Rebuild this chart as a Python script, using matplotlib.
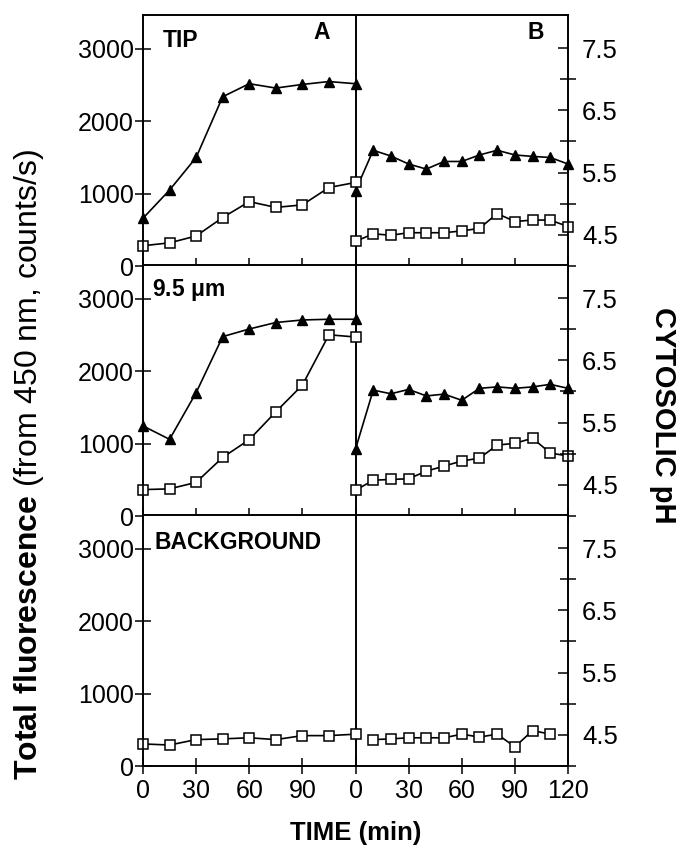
import matplotlib
matplotlib.use("Agg")
import matplotlib.pyplot as plt
import numpy as np

plt.rcParams['font.family'] = ['Liberation Sans', 'DejaVu Sans']
plt.rcParams['mathtext.fontset'] = 'custom'
plt.rcParams['mathtext.rm'] = 'Liberation Sans'
plt.rcParams['mathtext.bf'] = 'Liberation Sans:bold'

# ---- data ----
time_A = [0, 15, 30, 45, 60, 75, 90, 105, 120]
time_B = [0, 10, 20, 30, 40, 50, 60, 70, 80, 90, 100, 110, 120]
time_B_bg = [10, 20, 30, 40, 50, 60, 70, 80, 90, 100, 110]

tip_A_tri = [660, 1050, 1500, 2340, 2520, 2460, 2510, 2550, 2520]
tip_A_sq = [280, 320, 415, 670, 890, 810, 845, 1085, 1155]
tip_B_tri = [1040, 1600, 1520, 1410, 1340, 1445, 1445, 1535, 1600, 1535, 1515, 1500, 1410]
tip_B_sq = [340, 445, 425, 460, 460, 460, 485, 520, 725, 615, 635, 635, 545]

mid_A_tri = [1245, 1060, 1705, 2480, 2585, 2675, 2710, 2720, 2720]
mid_A_sq = [365, 375, 465, 810, 1055, 1440, 1810, 2505, 2475]
mid_B_tri = [925, 1740, 1690, 1750, 1660, 1685, 1600, 1765, 1785, 1765, 1785, 1820, 1765]
mid_B_sq = [355, 495, 505, 515, 620, 690, 760, 800, 980, 1005, 1075, 870, 830]

bg_A_sq = [305, 290, 365, 375, 390, 365, 420, 420, 440]
bg_B_sq = [365, 375, 390, 390, 390, 440, 400, 440, 265, 490, 440]

panel_labels = ["TIP", "9.5 $\\mathbf{\\mu}$m", "BACKGROUND"]
x_ticks = [0, 30, 60, 90, 120, 150, 180, 210, 240]
x_tick_labels = ["0", "30", "60", "90", "0", "30", "60", "90", "120"]
fl_ticks = [0, 1000, 2000, 3000]
ph_major = [4.5, 5.5, 6.5, 7.5]
ph_minor = [4.0, 5.0, 6.0, 7.0]

B_OFFSET = 120

fig = plt.figure(figsize=(6.8, 8.52), dpi=100)
left, right = 143 / 680, 568 / 680
tops = [15, 265, 515]
h = 251

panels = [
    (tip_A_tri, tip_A_sq, tip_B_tri, tip_B_sq, time_B),
    (mid_A_tri, mid_A_sq, mid_B_tri, mid_B_sq, time_B),
    (None, bg_A_sq, None, bg_B_sq, time_B_bg),
]

lw = 1.2
for i, (a_tri, a_sq, b_tri, b_sq, tb) in enumerate(panels):
    top_px = tops[i]
    bot_px = top_px + h
    ax = fig.add_axes([left, 1 - bot_px / 852, right - left, h / 852])
    tbx = np.array(tb) + B_OFFSET
    if a_tri is not None:
        ax.plot(time_A, a_tri, '-', color='black', lw=lw, marker='^', ms=7.5,
                mfc='black', mec='black', clip_on=False, zorder=4)
        ax.plot(tbx, b_tri, '-', color='black', lw=lw, marker='^', ms=7.5,
                mfc='black', mec='black', clip_on=False, zorder=4)
    ax.plot(time_A, a_sq, '-', color='black', lw=lw, marker='s', ms=6.5,
            mfc='white', mec='black', mew=1.1, clip_on=False, zorder=5)
    ax.plot(tbx, b_sq, '-', color='black', lw=lw, marker='s', ms=6.5,
            mfc='white', mec='black', mew=1.1, clip_on=False, zorder=5)
    ax.axvline(B_OFFSET, color='black', lw=1.4, zorder=3)
    ax.set_xlim(0, 240)
    ax.set_ylim(0, 3470)
    ax.set_yticks(fl_ticks)
    ax.set_yticklabels([str(v) for v in fl_ticks], fontsize=18)
    ax.set_xticks(x_ticks)
    if i == 2:
        ax.set_xticklabels(x_tick_labels, fontsize=18)
    else:
        ax.set_xticklabels([])
    ax.tick_params(axis='y', direction='inout', length=12, width=1.1, pad=0.5)
    ax.tick_params(axis='x', direction='inout', length=12, width=1.1, pad=3)
    for s in ax.spines.values():
        s.set_linewidth(1.2)
    ax.text(0.028 if i == 2 else (0.047 if i == 0 else 0.021),
            0.9 if i != 2 else 0.89, panel_labels[i],
            transform=ax.transAxes, fontsize=16.5, fontweight='bold',
            va='center', ha='left')
    if i == 0:
        ax.text(0.421, 0.932, "A", transform=ax.transAxes, fontsize=16.5,
                fontweight='bold', ha='center', va='center')
        ax.text(0.925, 0.932, "B", transform=ax.transAxes, fontsize=16.5,
                fontweight='bold', ha='center', va='center')

    ax2 = ax.twinx()
    ax2.set_ylim(4.0, 8.03)
    ax2.set_yticks(ph_major)
    ax2.set_yticklabels([str(v) for v in ph_major], fontsize=18.5)
    ax2.set_yticks(ph_minor, minor=True)
    ax2.tick_params(axis='y', which='major', direction='in', length=7, width=1.1, pad=10)
    ax2.tick_params(axis='y', which='minor', direction='inout', length=12, width=1.1)
    for s in ax2.spines.values():
        s.set_linewidth(1.2)

fig.text(0.042, 0.455, r"$\mathbf{Total\ fluorescence}$ (from 450 nm, counts/s)",
         rotation=90, fontsize=23, ha='center', va='center')
fig.text(0.975, 0.513, "CYTOSOLIC pH", rotation=-90, fontsize=21,
         fontweight='bold', ha='center', va='center')
fig.text(356 / 680, 1 - 833 / 852, "TIME (min)", fontsize=18.5,
         fontweight='bold', ha='center', va='center')

fig.savefig("out.png", dpi=100)
